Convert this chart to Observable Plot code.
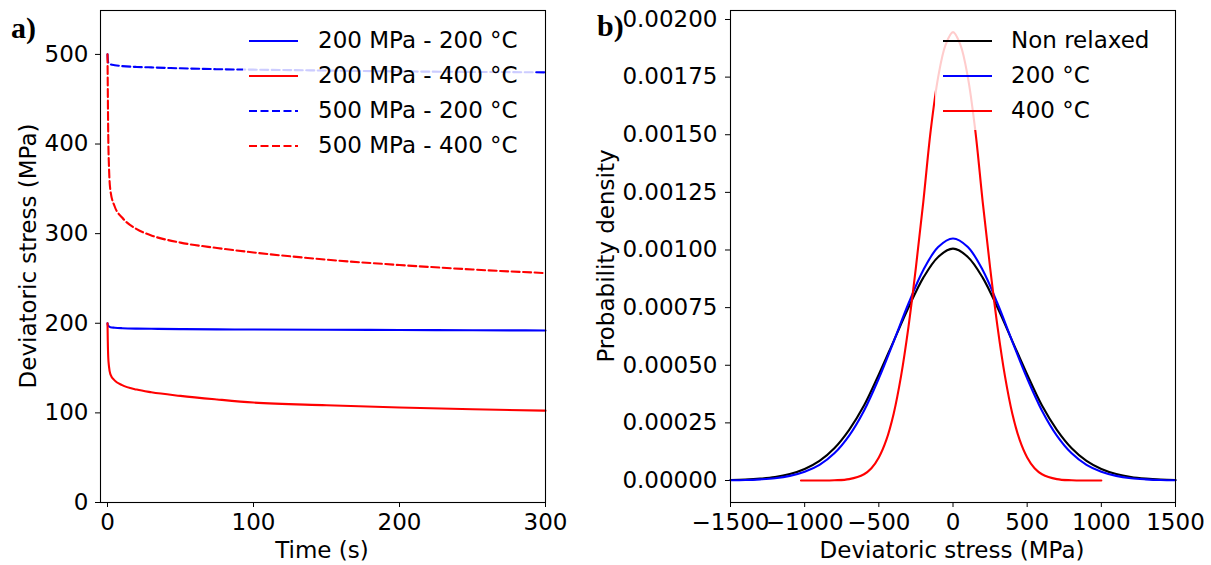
<!DOCTYPE html>
<html><head><meta charset="utf-8">
<script src="https://cdn.jsdelivr.net/npm/d3@7"></script>
<script src="https://cdn.jsdelivr.net/npm/@observablehq/plot@0.6"></script>
<style>
body{margin:0;background:#fff;}
#wrap{position:relative;width:1211px;height:565px;font-family:"DejaVu Sans";color:#000;overflow:hidden;}
.panel{position:absolute;top:0;}
.plab{position:absolute;font-family:"Liberation Serif";font-weight:bold;font-size:30px;line-height:1;}
.legend{position:absolute;background:rgba(255,255,255,0.8);}
.item{position:absolute;font-size:23px;line-height:1;white-space:nowrap;}
.axlab{position:absolute;font-size:23px;line-height:1;white-space:nowrap;transform:translate(-50%,-50%);}
.axlab.rot{transform:translate(-50%,-50%) rotate(-90deg);}
</style></head><body><div id="wrap"></div>
<script>
// ---- Panel a data ----
const timeA = [0, 0.2, 0.5, 1, 2, 5, 10, 20, 30, 50, 75, 100, 150, 200, 250, 300];
const s200_200 = [200, 198, 197, 196.5, 195.5, 195, 194.5, 194, 193.8, 193.5, 193.2, 193, 192.7, 192.5, 192.2, 192];
const s200_400 = [200, 180, 162, 152, 143, 136, 131, 126, 123, 119, 115, 111.5, 108.5, 106, 104, 102.5];
const s500_200 = [500, 494, 491, 490, 489, 488, 487, 486, 485.5, 484.5, 483.5, 483, 482, 481, 480.5, 480];
const s500_400 = [500, 460, 410, 375, 348, 330, 318, 305, 298, 290, 284, 279, 271, 265, 260, 256];
const seriesA = ["200 MPa - 200 °C", "200 MPa - 400 °C", "500 MPa - 200 °C", "500 MPa - 400 °C"];

// ---- Panel b data ----
const stressB = [-1500,-1400,-1300,-1200,-1100,-1000,-900,-800,-700,-600,-500,-400,-300,-200,-100,0,100,200,300,400,500,600,700,800,900,1000,1100,1200,1300,1400,1500];
const densNonRelaxed = [0.000002,0.000004,0.000008,0.000015,0.000028,0.000050,0.000085,0.000140,0.000220,0.000325,0.000460,0.000605,0.000750,0.000880,0.000970,0.001006,0.000970,0.000880,0.000750,0.000605,0.000460,0.000325,0.000220,0.000140,0.000085,0.000050,0.000028,0.000015,0.000008,0.000004,0.000002];
const dens200 = [0.000001,0.000002,0.000005,0.000010,0.000020,0.000038,0.000068,0.000118,0.000195,0.000303,0.000443,0.000603,0.000768,0.000913,0.001013,0.001050,0.001013,0.000913,0.000768,0.000603,0.000443,0.000303,0.000195,0.000118,0.000068,0.000038,0.000020,0.000010,0.000005,0.000002,0.000001];
const stressRed = [-1025,-900,-800,-700,-600,-550,-500,-450,-400,-350,-300,-250,-200,-150,-100,-50,0,50,100,150,200,250,300,350,400,450,500,550,600,700,800,900,1000];
const dens400 = [0,0,0.000001,0.000006,0.000027,0.000053,0.000100,0.000175,0.000290,0.000454,0.000668,0.000925,0.001210,0.001520,0.001750,0.001890,0.001945,0.001890,0.001750,0.001520,0.001210,0.000925,0.000668,0.000454,0.000290,0.000175,0.000100,0.000053,0.000027,0.000006,0.000001,0,0];
const seriesB = ["Non relaxed", "200 °C", "400 °C"];

const yTicksA = [0,100,200,300,400,500];
const xTicksA = [0,100,200,300];
const yTicksB = [0,0.00025,0.0005,0.00075,0.001,0.00125,0.0015,0.00175,0.002];
const xTicksB = [-1500,-1000,-500,0,500,1000,1500];

const toRows = (xs, ys) => xs.map((x, i) => ({x, y: ys[i]}));
const style = {fontFamily: "DejaVu Sans", fontSize: "23px", color: "#000", background: "transparent", overflow: "visible"};
const lw = 2.1, dash = "8,3.5";

const plotA = Plot.plot({
  width: 560, height: 565, marginLeft: 100, marginRight: 15, marginTop: 10, marginBottom: 63,
  style,
  x: {domain: [-4.8, 300], ticks: xTicksA, tickSize: 5, tickPadding: 6, label: null, tickFormat: d3.format("d")},
  y: {domain: [0, 549], ticks: yTicksA, tickSize: 5, tickPadding: 7, label: null, tickFormat: d3.format("d")},
  marks: [
    Plot.line(toRows(timeA, s200_200), {x: "x", y: "y", stroke: "blue", strokeWidth: lw, curve: "monotone-x"}),
    Plot.line(toRows(timeA, s200_400), {x: "x", y: "y", stroke: "red", strokeWidth: lw, curve: "monotone-x"}),
    Plot.line(toRows(timeA, s500_200), {x: "x", y: "y", stroke: "blue", strokeWidth: lw, strokeDasharray: dash, curve: "monotone-x"}),
    Plot.line(toRows(timeA, s500_400), {x: "x", y: "y", stroke: "red", strokeWidth: lw, strokeDasharray: dash, curve: "monotone-x"}),
    Plot.frame({stroke: "#000", strokeWidth: 1.1})
  ]
});

const plotB = Plot.plot({
  width: 631, height: 565, marginLeft: 150, marginRight: 36, marginTop: 10, marginBottom: 63,
  style,
  x: {domain: [-1500, 1500], ticks: xTicksB, tickSize: 5, tickPadding: 6, label: null, tickFormat: d3.format("d")},
  y: {domain: [-0.0000954, 0.002039], ticks: yTicksB, tickSize: 5, tickPadding: 8, label: null, tickFormat: d3.format(".5f")},
  marks: [
    Plot.line(toRows(stressB, densNonRelaxed), {x: "x", y: "y", stroke: "black", strokeWidth: lw, curve: "catmull-rom"}),
    Plot.line(toRows(stressB, dens200), {x: "x", y: "y", stroke: "blue", strokeWidth: lw, curve: "catmull-rom"}),
    Plot.line(toRows(stressRed, dens400), {x: "x", y: "y", stroke: "red", strokeWidth: lw, curve: "catmull-rom"}),
    Plot.frame({stroke: "#000", strokeWidth: 1.1})
  ]
});

const wrap = document.getElementById("wrap");
plotA.classList.add("panel"); plotA.style.left = "0px";
plotB.classList.add("panel"); plotB.style.left = "580px";
wrap.appendChild(plotA);
wrap.appendChild(plotB);

function addDiv(cls, css, text) {
  const d = document.createElement("div");
  d.className = cls;
  Object.assign(d.style, css);
  if (text != null) d.textContent = text;
  wrap.appendChild(d);
  return d;
}

function legend(box, items, lineX0, lineX1, textX, ys) {
  const lg = addDiv("legend", {left: box[0] + "px", top: box[1] + "px", width: (box[2] - box[0]) + "px", height: (box[3] - box[1]) + "px"});
  items.forEach((it, i) => {
    const y = ys[i];
    const ns = "http://www.w3.org/2000/svg";
    const svg = document.createElementNS(ns, "svg");
    svg.setAttribute("width", lineX1 - lineX0);
    svg.setAttribute("height", 10);
    svg.style.position = "absolute";
    svg.style.left = (lineX0 - box[0]) + "px";
    svg.style.top = (y - box[1] - 5) + "px";
    const ln = document.createElementNS(ns, "line");
    ln.setAttribute("x1", 0); ln.setAttribute("x2", lineX1 - lineX0);
    ln.setAttribute("y1", 5); ln.setAttribute("y2", 5);
    ln.setAttribute("stroke", it.color); ln.setAttribute("stroke-width", lw);
    if (it.dash) ln.setAttribute("stroke-dasharray", dash);
    svg.appendChild(ln);
    lg.appendChild(svg);
    const t = document.createElement("div");
    t.className = "item";
    t.textContent = it.label;
    t.style.left = (textX - box[0]) + "px";
    t.style.top = (y - box[1] - 12) + "px";
    lg.appendChild(t);
  });
}

legend([243, 22, 535, 162], [
  {label: seriesA[0], color: "blue"},
  {label: seriesA[1], color: "red"},
  {label: seriesA[2], color: "blue", dash: true},
  {label: seriesA[3], color: "red", dash: true}
], 249, 298, 318, [41, 76, 111, 146]);

legend([935, 22, 1168, 130], [
  {label: seriesB[0], color: "black"},
  {label: seriesB[1], color: "blue"},
  {label: seriesB[2], color: "red"}
], 943, 992, 1011, [41, 76, 111]);

// axis labels
addDiv("axlab", {left: "322px", top: "550px"}, "Time (s)");
addDiv("axlab rot", {left: "28px", top: "256px"}, "Deviatoric stress (MPa)");
addDiv("axlab", {left: "952px", top: "550px"}, "Deviatoric stress (MPa)");
addDiv("axlab rot", {left: "606px", top: "256px"}, "Probability density");

// panel labels
addDiv("plab", {left: "11px", top: "13px"}, "a)");
addDiv("plab", {left: "597px", top: "11px"}, "b)");
</script></body></html>
